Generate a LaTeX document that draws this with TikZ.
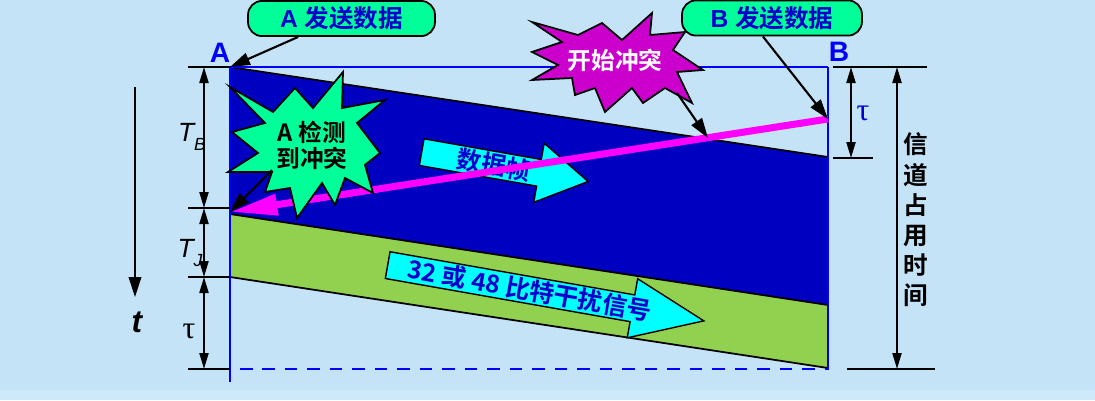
\documentclass[tikz,border=0pt]{standalone}
\usepackage{fontspec}
\setmainfont{Liberation Sans}
\newfontfamily\cjk{Noto Sans CJK SC}[BoldFont={Noto Sans CJK SC Bold}]
\newfontfamily\greek{Liberation Serif}
\usetikzlibrary{arrows.meta,calc,shapes.arrows}
\definecolor{bgblue}{RGB}{197,227,247}
\definecolor{bandblue}{RGB}{206,234,250}
\definecolor{frameblue}{RGB}{0,0,255}
\definecolor{darkfill}{RGB}{0,0,192}
\definecolor{jamgreen}{RGB}{146,208,80}
\definecolor{burstgreen}{RGB}{0,255,153}
\definecolor{burstpurple}{RGB}{204,0,204}
\definecolor{textblue}{RGB}{0,0,204}
\definecolor{arrowcyan}{RGB}{0,255,255}
\definecolor{pinkline}{RGB}{255,0,255}
\tikzset{
  every node/.style={font=\bfseries},
  callout/.style={draw=black, line width=1pt, fill=burstgreen, rounded corners=8pt,
    minimum height=0.66cm, text=textblue, font=\bfseries\fontsize{14}{16}\selectfont},
  burst/.style={draw=black, line width=1pt, line join=miter},
  burst text/.style={font=\cjk\bfseries\fontsize{13.5}{14.7}\selectfont, align=center},
  pointer/.style={line width=1.2pt, -{Triangle[length=0.4cm,width=0.25cm]}},
  dim/.style={line width=1.2pt, {Triangle[length=0.32cm,width=0.18cm]}-{Triangle[length=0.32cm,width=0.18cm]}},
  tick/.style={line width=1.2pt},
  frame line/.style={draw=frameblue, line width=1pt},
  station/.style={font=\bfseries\fontsize{16}{18}\selectfont, text=frameblue},
  signal/.style={single arrow, draw=black, line width=0.8pt, fill=arrowcyan, text=textblue,
    inner sep=0pt, single arrow head extend=0.3cm, minimum width=1.2cm, anchor=tail,
    font=\cjk\bfseries\fontsize{14}{16}\selectfont},
  dim label/.style={font=\fontsize{15}{17}\selectfont\itshape},
  tau/.style={font=\greek\fontsize{18}{20}\selectfont}
}

\begin{document}
\begin{tikzpicture}[x=0.02cm, y=-0.02cm, line cap=butt]
  \fill[bgblue] (0,0) rectangle (1095,390);
  \fill[bandblue] (0,390) rectangle (1095,400);
  \useasboundingbox (0,0) rectangle (1095,400);

  % station A (left) and station B (right)
  \coordinate (A0) at (230,67);
  \coordinate (B0) at (828,67);
  \coordinate (Bend) at (828,157);
  \coordinate (Acoll) at (230,214);
  \coordinate (Bjam) at (828,305);
  \coordinate (Ajam) at (230,277);
  \coordinate (Bfree) at (828,368);
  \coordinate (Bstart) at (828,119);
  \coordinate (Atip) at (230,212);
  \coordinate (hit) at (708,138);

  \fill[darkfill] (A0) -- (Bend) -- (Bjam) -- (Acoll) -- cycle;
  \fill[jamgreen] (Acoll) -- (Bjam) -- (Bfree) -- (Ajam) -- cycle;
  \draw[line width=1pt] (A0) -- (Bend);
  \draw[line width=1pt] (Acoll) -- (Bjam);
  \draw[line width=1pt] (Ajam) -- (Bfree);

  \draw[frame line] (230,382) -- (A0);
  \draw[frame line] (828,370) -- (B0);
  \draw[frame line, line width=1.7pt] (A0) -- (B0);
  \draw[frame line, line width=1.6pt, dash pattern=on 0.25cm off 0.2cm] (240,369) -- (828,369);

  \node[signal, rotate=-10, minimum height=3.38cm, single arrow tip angle=62] (frame) at (421,152) {数据帧};
  \node[signal, rotate=-10, minimum height=6.42cm, single arrow tip angle=45] (jam) at (387,265) {32 或 48 比特干扰信号};

  % B's frame running back to A
  \draw[pinkline, line width=4pt, -{Triangle[length=0.95cm,width=0.4cm]}] (Bstart) -- (Atip);

  % bursts
  \draw[burst, fill=burstgreen] (230,87) -- (273,112) -- (295,88) -- (313,108) -- (343,72)
    -- (342,108) -- (385,100) -- (357,123) -- (380,153) -- (365,165) -- (373,193) -- (345,178)
    -- (335,205) -- (322,183) -- (297,218) -- (290,188) -- (265,192) -- (272,172) -- (228,172)
    -- (258,153) -- (232,132) -- (265,123) -- cycle;
  \node[burst text] (detect) at (312,145) {A 检测\\到冲突};
  \draw[burst, fill=burstpurple] (532,22) -- (578,35) -- (602,23) -- (622,40) -- (652,13)
    -- (650,35) -- (685,32) -- (673,50) -- (703,70) -- (677,72) -- (692,103) -- (665,88)
    -- (643,103) -- (632,88) -- (605,112) -- (595,88) -- (575,95) -- (572,78) -- (532,80)
    -- (558,65) -- (532,52) -- (562,42) -- cycle;
  \node[burst text, text=white] (start) at (615,60) {开始冲突};
  \coordinate (detect foot) at (272,170);
  \coordinate (start foot) at (677,93);

  % callouts
  \node[callout, minimum width=3.74cm] (sendA) at (341.5,18.5) {A {\cjk 发送数据}};
  \node[callout, minimum width=3.6cm] (sendB) at (772,18) {B {\cjk 发送数据}};
  \node[station] (labA) at (220,53) {A};
  \node[station] (labB) at (839,52) {B};

  \draw[pointer] ($(sendA.south west)!0.27!(sendA.south east)$) -- (A0);
  \draw[pointer] ($(sendB.south west)!0.45!(sendB.south east)$) -- (Bstart);
  \draw[pointer] (start foot) -- (hit);
  \draw[pointer] (detect foot) -- (Atip);

  % time axis on the left
  \coordinate (t0) at (135,87);
  \coordinate (t1) at (135,297);
  \draw[pointer] (t0) -- (t1);
  \node[font=\bfseries\itshape\fontsize{18}{20}\selectfont] (tlab) at (137,322) {t};

  \foreach \y in {67,208,277,369}
    \draw[tick] (188,\y) -- (230,\y);
  \draw[dim] (204,67) -- (204,208);
  \draw[dim] (204,208) -- (204,277);
  \draw[dim] (204,277) -- (204,369);
  \node[dim label] (TB) at (192,137) {T\raisebox{-0.6ex}{\fontsize{10}{11}\selectfont B}};
  \node[dim label] (TJ) at (190,253) {T\raisebox{-0.6ex}{\fontsize{10}{11}\selectfont J}};
  \node[tau] (tauA) at (189,331) {τ};

  % right side
  \draw[tick] (833,67) -- (927,67);
  \draw[tick] (833,158) -- (873,158);
  \draw[tick] (847,369) -- (935,369);
  \draw[dim] (851,67) -- (851,158);
  \draw[dim] (897,67) -- (897,369);
  \node[tau, text=textblue] (tauB) at (863,113) {τ};
  \node[font=\cjk\bfseries\fontsize{14}{17.2}\selectfont, align=center] (busy) at (916,220)
    {信\\道\\占\\用\\时\\间};
\end{tikzpicture}
\end{document}
